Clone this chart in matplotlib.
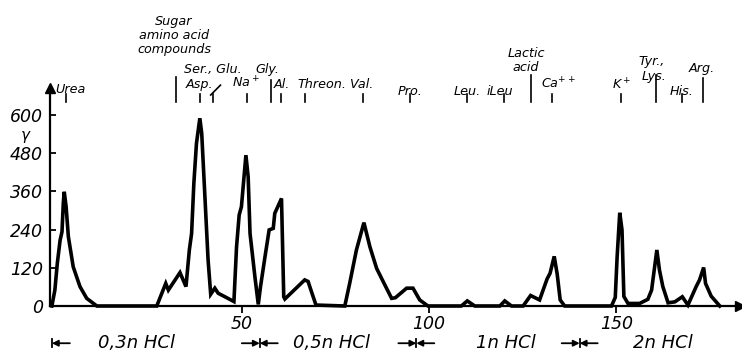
import matplotlib
matplotlib.use("Agg")
from matplotlib import pyplot as plt

plt.rcParams["font.family"] = ["DejaVu Sans"]
plt.rcParams["font.style"] = "italic"

# elution curve (fraction number vs. gamma)
fraction = [-0.7, 0.1, 0.75, 1.5, 2.0, 2.35, 2.6, 3.1, 3.7, 5.0, 6.8, 8.6, 11.3,
            27.3, 29.7, 30.4, 33.5, 35.1, 36.0, 36.6, 37.2, 37.9, 38.8, 39.3, 40.2,
            41.0, 41.7, 42.8, 43.7, 45.5, 47.9, 48.6, 49.3, 49.9, 51.1, 51.7, 52.2,
            53.5, 54.4, 55.0, 56.2, 57.3, 58.4, 58.8, 60.6, 61.2, 61.5, 66.8, 67.7,
            68.6, 69.8,
            77.5, 78.8, 80.6, 82.6, 84.2, 86.0, 88.2, 90.0, 91.0, 94.0, 95.7, 97.5, 99.7,
            108.6, 110.2, 112.2,
            118.9, 120.2, 122.0,
            125.1, 127.1, 129.5, 131.5, 132.3, 133.4, 134.2, 135.0, 136.2,
            148.7, 149.7, 150.2, 150.9, 151.5, 152.0, 153.1, 156.2, 158.4, 159.4,
            160.8, 161.5, 162.4, 163.8, 165.6, 167.6, 169.1, 171.3, 172.2, 173.3,
            173.8, 175.3, 177.6]
gamma = [0, 50, 134, 207, 233, 323, 359, 312, 218, 123, 61, 24, 0,
         0, 71, 50, 105, 61, 176, 228, 385, 511, 590, 543, 333,
         145, 37, 56, 40, 29, 14, 186, 286, 312, 474, 406, 228,
         92, 5, 61, 155, 239, 244, 291, 338, 29, 22, 82, 77,
         45, 3,
         0, 71, 176, 262, 186, 118, 66, 24, 26, 56, 56, 19, 0,
         0, 16, 0,
         0, 16, 0,
         0, 33, 19, 85, 103, 156, 100, 19, 0,
         0, 27, 155, 293, 239, 30, 8, 8, 21, 50,
         176, 113, 61, 10, 13, 29, 3, 61, 82, 121,
         71, 31, 0]

y_ticks = [0, 120, 240, 360, 480, 600]
x_ticks = [50, 100, 150]

# compound markers above the plot: position and top of the line
marker_x = [3.0, 32.4, 38.8, 42.4, 51.3, 57.7, 60.6, 66.8, 82.4, 95.0, 110.2,
            120.0, 127.3, 132.9, 151.1, 160.7, 167.6, 173.1]
marker_top = [665, 719, 665, 665, 665, 710, 665, 665, 665, 665, 665,
              665, 726, 665, 665, 726, 665, 716]

# compound labels: text, x, baseline y
labels = [
    ("Urea", 4.2, 669),
    ("Sugar", 31.9, 883),
    ("amino acid", 31.9, 839),
    ("compounds", 31.9, 795),
    ("Ser., Glu.", 42.2, 732),
    ("Asp.", 38.6, 685),
    ("Na$^+$", 51.1, 685),
    ("Gly.", 56.8, 732),
    ("Al.", 60.6, 685),
    ("Threon.", 71.4, 685),
    ("Val.", 81.9, 685),
    ("Pro.", 94.9, 663),
    ("Leu.", 110.3, 663),
    ("iLeu", 118.9, 663),
    ("Lactic", 126.1, 782),
    ("acid", 125.7, 738),
    ("Ca$^{++}$", 134.6, 682),
    ("K$^+$", 151.3, 679),
    ("Tyr.,", 159.3, 757),
    ("Lys.", 160.0, 710),
    ("His.", 167.3, 663),
    ("Arg.", 172.9, 735),
]

# eluent sections
eluents = ["0,3n HCl", "0,5n HCl", "1n HCl", "2n HCl"]
eluent_x = [22.0, 74.0, 120.5, 162.4]
eluent_start = [-0.7, 54.8, 96.6, 140.2]

fig = plt.figure(figsize=(7.42, 3.53), dpi=100)
ax = fig.add_axes([50 / 742, 47 / 353, 690 / 742, 218 / 353])
ax.set_xlim(-1.2, 183)
ax.set_ylim(0, 685)

ax.plot(fraction, gamma, color="black", lw=2.6, solid_joinstyle="miter", clip_on=False)

for side in ["top", "right"]:
    ax.spines[side].set_visible(False)
for side in ["left", "bottom"]:
    ax.spines[side].set_linewidth(1.6)
ax.plot(1, 0, ">k", ms=7, transform=ax.transAxes, clip_on=False)
ax.plot(0, 1, "^k", ms=7, transform=ax.transAxes, clip_on=False)

ax.set_yticks(y_ticks)
ax.set_yticklabels([str(v) for v in y_ticks], fontsize=12.5)
ax.tick_params(axis="y", direction="in", length=4, width=1.3, pad=5)
ax.set_xticks(x_ticks)
ax.set_xticklabels([str(v) for v in x_ticks], fontsize=12.5)
ax.tick_params(axis="x", direction="out", length=5, width=1.3, pad=1.5)

ax.text(-7.6, 532, "$\\gamma$", fontsize=11, ha="center", va="center", clip_on=False)

for x, top in zip(marker_x, marker_top):
    ax.plot([x, x], [640, top], color="black", lw=1.2, clip_on=False)
ax.plot([41.7, 44.3], [663, 694], color="black", lw=1.2, clip_on=False)

for text, x, y in labels:
    ax.text(x, y, text, fontsize=9.2, ha="center", va="baseline", clip_on=False)

yb = -117
for name, x in zip(eluents, eluent_x):
    ax.text(x, yb, name, fontsize=13, ha="center", va="center", clip_on=False)
for i, x in enumerate(eluent_start):
    ax.plot([x, x], [yb - 12, yb + 12], color="black", lw=1.3, clip_on=False)
    ax.annotate("", xy=(x, yb), xytext=(x + 4.8, yb), annotation_clip=False,
                arrowprops=dict(arrowstyle="-|>", color="black", lw=1.3,
                                mutation_scale=9, shrinkA=0, shrinkB=0))
    if i > 0:
        ax.annotate("", xy=(x, yb), xytext=(x - 4.8, yb), annotation_clip=False,
                    arrowprops=dict(arrowstyle="-|>", color="black", lw=1.3,
                                    mutation_scale=9, shrinkA=0, shrinkB=0))

fig.savefig("out.png", dpi=100)
